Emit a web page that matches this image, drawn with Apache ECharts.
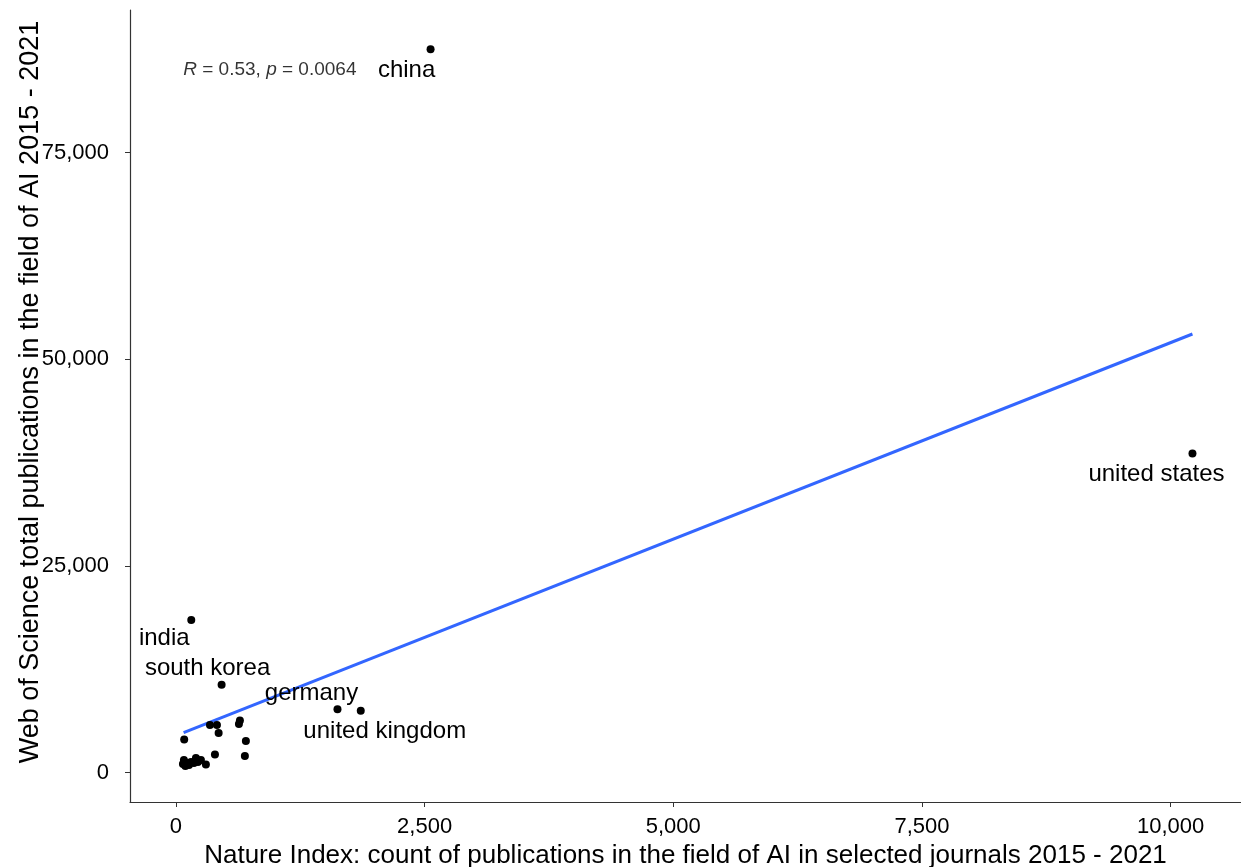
<!DOCTYPE html>
<html>
<head>
<meta charset="utf-8">
<script src="https://cdn.jsdelivr.net/npm/echarts@6/dist/echarts.min.js"></script>
<style>html,body{margin:0;padding:0;background:#fff}#c{width:1241px;height:867px}</style>
</head>
<body>
<div id="c"></div>
<script>
// Labelled countries: [natureIndex, webOfScience]
const countryNames = ['china', 'united states', 'india', 'south korea', 'germany', 'united kingdom'];
const countryX = [2560, 10220, 154, 459, 1624, 1858];
const countryY = [87500, 38600, 18450, 10620, 7650, 7480];
// Unlabelled countries
const otherX = [83, 342, 412, 429, 643, 633, 703, 693, 392, 301, 80, 110, 151, 201, 251, 131, 181, 70, 221, 95];
const otherY = [3990, 5750, 5750, 4780, 6290, 5870, 3810, 2000, 2180, 970, 1510, 1150, 1270, 1750, 1510, 910, 1150, 1030, 1270, 800];
// Linear fit endpoints
const fitX = [77, 10220];
const fitY = [4814, 53042];
const xTicks = [0, 2500, 5000, 7500, 10000];
const yTicks = [0, 25000, 50000, 75000];
const labelOffsets = [[-24, 21], [-36, 21], [-27, 18], [-14, -16], [-26, -16], [24, 21]];
const yTitle = 'Web of Science total publications in the field of AI 2015 - 2021';

const fmt = v => Number(v).toLocaleString('en-US');
const font = 'Liberation Sans, Arial, sans-serif';
const SYM = 8;

const labelled = countryNames.map((n, i) => ({
  value: [countryX[i], countryY[i]],
  name: n,
  label: { show: true, formatter: n, position: [SYM / 2 + labelOffsets[i][0], SYM / 2 + labelOffsets[i][1]] }
}));

const chart = echarts.init(document.getElementById('c'), null, { renderer: 'canvas' });
chart.setOption({
  animation: false,
  backgroundColor: '#fff',
  grid: { left: 130, right: 0, top: 10, bottom: 65, outerBoundsMode: 'none', containLabel: false },
  graphic: [{
    type: 'text', x: 31, y: 392, rotation: Math.PI / 2,
    style: { text: yTitle, fontFamily: font, fontSize: 27, fill: '#000', align: 'center', verticalAlign: 'middle' }
  }],
  xAxis: {
    type: 'value', min: -462, max: 10708,
    name: 'Nature Index: count of publications in the field of AI in selected journals 2015 - 2021',
    nameLocation: 'middle', nameGap: 40,
    nameTextStyle: { fontFamily: font, fontSize: 26, color: '#000' },
    splitLine: { show: false },
    axisLine: { show: true, onZero: false, lineStyle: { color: '#333', width: 1.2 } },
    axisTick: { show: true, length: 5, customValues: xTicks, lineStyle: { color: '#333' } },
    axisLabel: { customValues: xTicks, formatter: fmt, fontFamily: font, fontSize: 22, color: '#000', margin: 14, showMinLabel: true, showMaxLabel: true }
  },
  yAxis: {
    type: 'value', min: -3568, max: 92234,
    splitLine: { show: false },
    axisLine: { show: true, onZero: false, lineStyle: { color: '#333', width: 1.2 } },
    axisTick: { show: true, length: 5, customValues: yTicks, lineStyle: { color: '#333' } },
    axisLabel: { customValues: yTicks, formatter: fmt, fontFamily: font, fontSize: 22, color: '#000', margin: 21 }
  },
  series: [
    {
      type: 'line', data: fitX.map((x, i) => [x, fitY[i]]), symbol: 'none',
      lineStyle: { color: '#3366FF', width: 3 }, z: 2
    },
    {
      type: 'scatter', data: otherX.map((x, i) => [x, otherY[i]]),
      symbolSize: SYM, itemStyle: { color: '#000', opacity: 1 }, z: 3
    },
    {
      type: 'scatter', data: labelled, symbolSize: SYM, itemStyle: { color: '#000', opacity: 1 }, z: 3,
      label: { fontFamily: font, fontSize: 24, color: '#000', align: 'center', verticalAlign: 'middle' },
      labelLayout: { hideOverlap: false }
    },
    {
      type: 'scatter', data: [[944, 85000]], symbolSize: 0, silent: true,
      label: {
        show: true, position: 'inside',
        formatter: '{i|R} = 0.53, {i|p} = 0.0064',
        fontFamily: font, fontSize: 19, color: '#000',
        rich: { i: { fontStyle: 'italic', fontFamily: font, fontSize: 19, color: '#000' } }
      }
    }
  ]
});
</script>
</body>
</html>
